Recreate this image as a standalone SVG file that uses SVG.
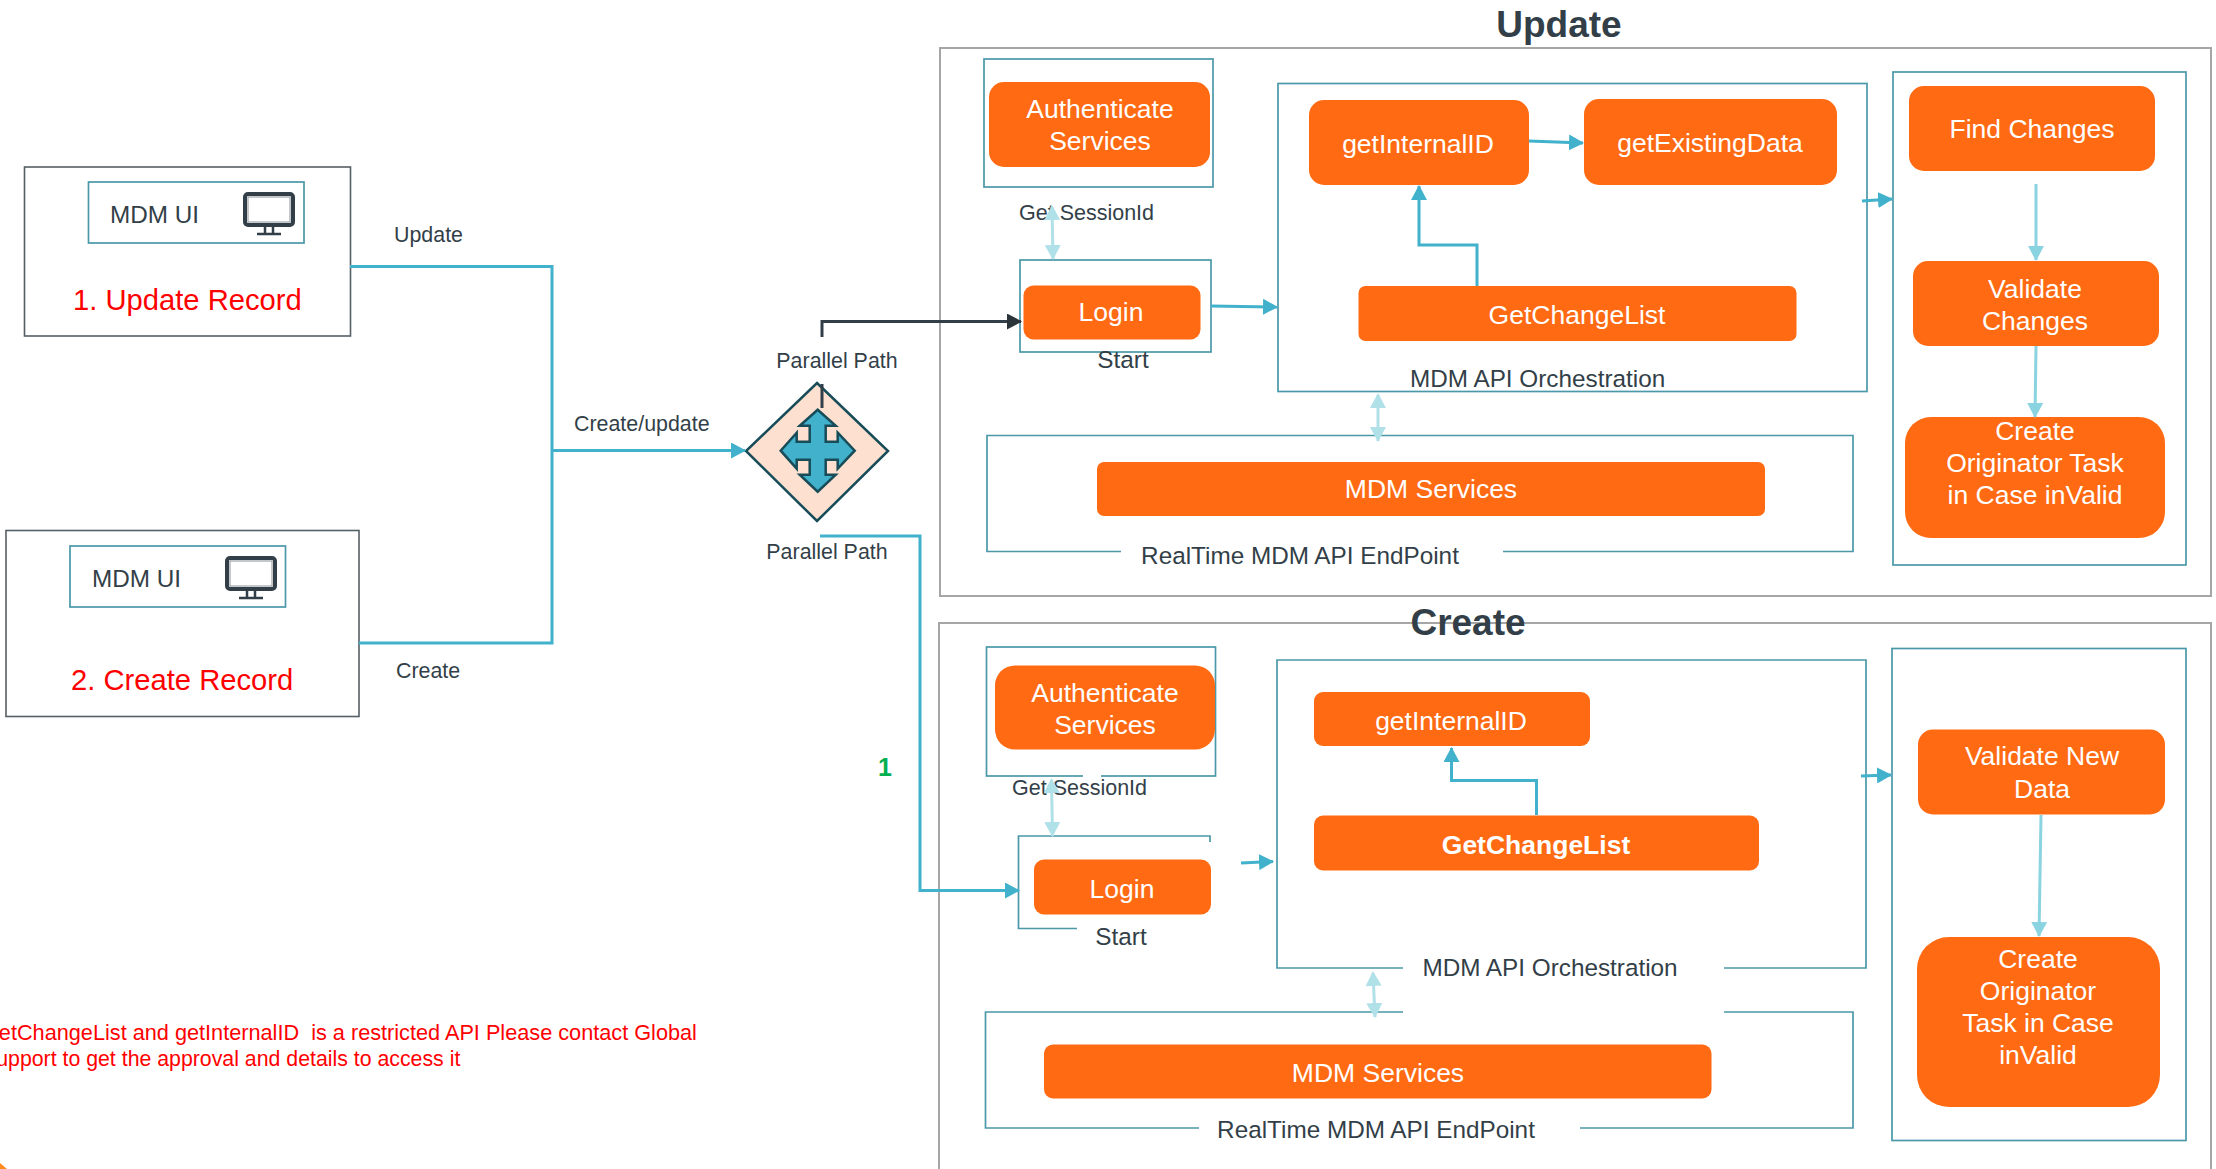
<svg xmlns="http://www.w3.org/2000/svg" width="2216" height="1169" viewBox="0 0 2216 1169">
<style>
text{font-family:"Liberation Sans",Arial,sans-serif;fill:#333f48;font-size:24.300px}
.m{text-anchor:middle}
.w{fill:#fff;font-size:26.500px;text-anchor:middle}
.s{font-size:21.400px}
.r{fill:#ff0000}
.o{fill:#ff6a13}
.b{fill:none;stroke:#4a98a8;stroke-width:1.700}
.f{fill:none;stroke:#a6a6a6;stroke-width:2}
.k{fill:none;stroke:#555f66;stroke-width:1.600}
.c{fill:none;stroke:#41b1cc;stroke-width:3}
.l{fill:none;stroke:#b0e0e8;stroke-width:3}
.t{fill:none;stroke:#8ad3e0;stroke-width:3}
.h{fill:none;stroke:#333f48;stroke-width:3}
</style>
<defs>
<marker id="a" markerWidth="16" markerHeight="16" refX="14" refY="8" orient="auto" markerUnits="userSpaceOnUse"><path d="M0 0L15 8L0 16Z" fill="#41b1cc"/></marker>
<marker id="ak" markerWidth="16" markerHeight="16" refX="14" refY="8" orient="auto" markerUnits="userSpaceOnUse"><path d="M0 0L15 8L0 16Z" fill="#2b3438"/></marker>
<marker id="at" markerWidth="16" markerHeight="16" refX="14" refY="8" orient="auto" markerUnits="userSpaceOnUse"><path d="M0 0L15 8L0 16Z" fill="#8ad3e0"/></marker>
<marker id="al" markerWidth="16" markerHeight="16" refX="14" refY="8" orient="auto" markerUnits="userSpaceOnUse"><path d="M0 0L15 8L0 16Z" fill="#b0e0e8"/></marker>
<marker id="as" markerWidth="16" markerHeight="16" refX="2" refY="8" orient="auto" markerUnits="userSpaceOnUse"><path d="M15 0L0 8L15 16Z" fill="#b0e0e8"/></marker>
<g id="mon"><rect x="2" y="2" width="48" height="31" rx="3" fill="none" stroke="#333f48" stroke-width="4"/><rect x="5" y="5" width="42" height="25" fill="none" stroke="#8a9297" stroke-width="1"/><path d="M22 34V41M30 34V41M14 42H38" fill="none" stroke="#333f48" stroke-width="2.500"/></g>
</defs>

<g id="update-frame"><rect class="f" x="940" y="48" width="1271" height="548"/><text class="m" x="1559" y="37" style="font-size:37px;font-weight:bold">Update</text></g>
<g id="create-frame"><rect class="f" x="939" y="623" width="1272" height="560"/><text class="m" x="1468" y="635" style="font-size:37px;font-weight:bold">Create</text></g>

<g id="record-update"><rect class="k" x="24.500" y="167" width="326" height="169" fill="#fff"/><rect class="b" x="88.500" y="182" width="215.500" height="61"/><text x="110" y="223">MDM UI</text><use href="#mon" x="243" y="192"/><text class="r" x="73" y="310" style="font-size:29.200px">1. Update Record</text></g>
<g id="record-create"><rect class="k" x="6" y="530.500" width="353" height="186" fill="#fff"/><rect class="b" x="70" y="546" width="215.500" height="61"/><text x="92" y="587">MDM UI</text><use href="#mon" x="225" y="556"/><text class="r" x="71" y="690" style="font-size:29.200px">2. Create Record</text></g>

<g id="gateway"><path d="M817 383L888 451L817 521L746 451Z" fill="#fde0cf" stroke="#174c58" stroke-width="2.500"/><path transform="translate(817.700 450.700)" d="M0-41L18-25H8V-9H20V-18L37 0L20 18V9H8V24H18L0 41L-18 24H-8V9H-21V18L-37 0L-21-18V-9H-8V-25H-18Z" fill="#41b1cc" stroke="#174c58" stroke-width="2.500"/></g>
<g id="parallel-labels"><text class="s m" x="837" y="368">Parallel Path</text><text class="s m" x="827" y="559">Parallel Path</text></g>

<g id="update-auth"><rect class="b" x="984" y="59" width="229" height="128"/><rect class="o" x="989" y="82" width="221" height="85" rx="15"/><text class="w" x="1100" y="118">Authenticate</text><text class="w" x="1100" y="150">Services</text><text x="1019" y="220" style="font-size:21.500px">Get SessionId</text></g>
<g id="update-login"><rect class="b" x="1020" y="260" width="191" height="92"/><rect class="o" x="1023.500" y="285.500" width="177" height="54" rx="10"/><text class="w" x="1111" y="321">Login</text><text class="m" x="1123" y="368">Start</text></g>
<g id="update-orch"><rect class="b" x="1278" y="83.500" width="589" height="308"/><rect class="o" x="1309" y="100" width="220" height="85" rx="15"/><text class="w" x="1418" y="153">getInternalID</text><rect class="o" x="1584" y="99" width="253" height="86" rx="15"/><text class="w" x="1710" y="152">getExistingData</text><rect class="o" x="1358.500" y="286" width="438" height="55" rx="7"/><text class="w" x="1577" y="324">GetChangeList</text><text x="1410" y="387">MDM API Orchestration</text></g>
<g id="update-services"><path class="b" d="M1121 551.500H987V435.500H1853V551.500H1503"/><rect class="o" x="1097" y="462" width="668" height="54" rx="7"/><text class="w" x="1431" y="498">MDM Services</text><text class="m" x="1300" y="564">RealTime MDM API EndPoint</text></g>
<g id="update-checks"><rect class="b" x="1893" y="72" width="293" height="493"/><rect class="o" x="1909" y="86" width="246" height="85" rx="15"/><text class="w" x="2032" y="138">Find Changes</text><rect class="o" x="1913" y="261" width="246" height="85" rx="15"/><text class="w" x="2035" y="298">Validate</text><text class="w" x="2035" y="330">Changes</text><rect class="o" x="1905" y="417" width="260" height="121" rx="26"/><text class="w" x="2035" y="440">Create</text><text class="w" x="2035" y="472">Originator Task</text><text class="w" x="2035" y="504">in Case inValid</text></g>

<g id="create-auth"><rect class="b" x="986.500" y="647" width="229" height="129"/><rect fill="#fff" x="1083" y="770" width="18" height="10"/><rect class="o" x="995" y="665.500" width="220" height="84" rx="20"/><text class="w" x="1105" y="702">Authenticate</text><text class="w" x="1105" y="734">Services</text><text x="1012" y="795" style="font-size:21.500px">Get SessionId</text></g>
<g id="create-login"><path class="b" d="M1210 842V836H1018.500V928.500H1077"/><rect class="o" x="1034" y="859.500" width="177" height="55" rx="10"/><text class="w" x="1122" y="898">Login</text><text class="m" x="1121" y="945">Start</text></g>
<g id="create-orch"><path class="b" d="M1403 968H1277V660H1866V968H1724"/><rect class="o" x="1314" y="692" width="276" height="54" rx="9"/><text class="w" x="1451" y="730">getInternalID</text><rect class="o" x="1314" y="815.500" width="445" height="55" rx="9"/><text class="w" x="1536" y="854" style="font-weight:bold">GetChangeList</text><text class="m" x="1550" y="976">MDM API Orchestration</text></g>
<g id="create-services"><path class="b" d="M1403 1012H985.500V1128H1199M1580 1128H1853V1012H1724"/><rect class="o" x="1044" y="1044.500" width="667.500" height="54" rx="9"/><text class="w" x="1378" y="1082">MDM Services</text><text class="m" x="1376" y="1138">RealTime MDM API EndPoint</text></g>
<g id="create-checks"><rect class="b" x="1892" y="648.500" width="294" height="492"/><rect class="o" x="1918" y="729.500" width="247" height="85" rx="15"/><text class="w" x="2042" y="765">Validate New</text><text class="w" x="2042" y="798">Data</text><rect class="o" x="1917" y="937" width="243" height="170" rx="32"/><text class="w" x="2038" y="968">Create</text><text class="w" x="2038" y="1000">Originator</text><text class="w" x="2038" y="1032">Task in Case</text><text class="w" x="2038" y="1064">inValid</text></g>

<g id="connectors">
<path class="c" d="M350 266.500H552V643H359"/>
<path class="c" d="M552 450.500H745" marker-end="url(#a)"/>
<path class="h" d="M822 337V321.500H1021" marker-end="url(#ak)"/>
<path class="h" d="M822 384V408"/>
<path class="c" d="M820 536H920V890.500H1019" marker-end="url(#a)"/>
<path class="l" d="M1052 207L1053 259" marker-start="url(#as)" marker-end="url(#al)"/>
<path class="c" d="M1211 306L1277 307" marker-end="url(#a)"/>
<path class="c" d="M1529 141L1583 143" marker-end="url(#a)"/>
<path class="c" d="M1477 286V245H1419V186" marker-end="url(#a)"/>
<path class="c" d="M1862 201L1892 199" marker-end="url(#a)"/>
<path class="l" d="M1378 395V441" marker-start="url(#as)" marker-end="url(#al)"/>
<path class="t" d="M2036 184V260" marker-end="url(#at)"/>
<path class="t" d="M2036 346L2035 417" marker-end="url(#at)"/>
<path class="l" d="M1051.500 780L1052.500 836" marker-start="url(#as)" marker-end="url(#al)"/>
<path class="c" d="M1241 863L1273 861.500" marker-end="url(#a)"/>
<path class="c" d="M1536.500 815V780.500H1451.500V748" marker-end="url(#a)"/>
<path class="c" d="M1861 776L1891 775" marker-end="url(#a)"/>
<path class="l" d="M1373 973L1375 1017" marker-start="url(#as)" marker-end="url(#al)"/>
<path class="t" d="M2041 815L2039 936" marker-end="url(#at)"/>
</g>

<g id="labels"><text class="s" x="394" y="242">Update</text><text class="s" x="396" y="678">Create</text><text class="s" x="574" y="431">Create/update</text><text x="878" y="776" style="font-weight:bold;fill:#00b050;font-size:25px">1</text>
<text class="r" x="-18" y="1040" xml:space="preserve" style="font-size:21.700px">GetChangeList and getInternalID  is a restricted API Please contact Global</text><text class="r" x="-18" y="1066" style="font-size:21.300px">Support to get the approval and details to access it</text></g>
<path id="corner-mark" d="M0 1163L7 1169H0Z" fill="#ff8a1e"/>
</svg>
